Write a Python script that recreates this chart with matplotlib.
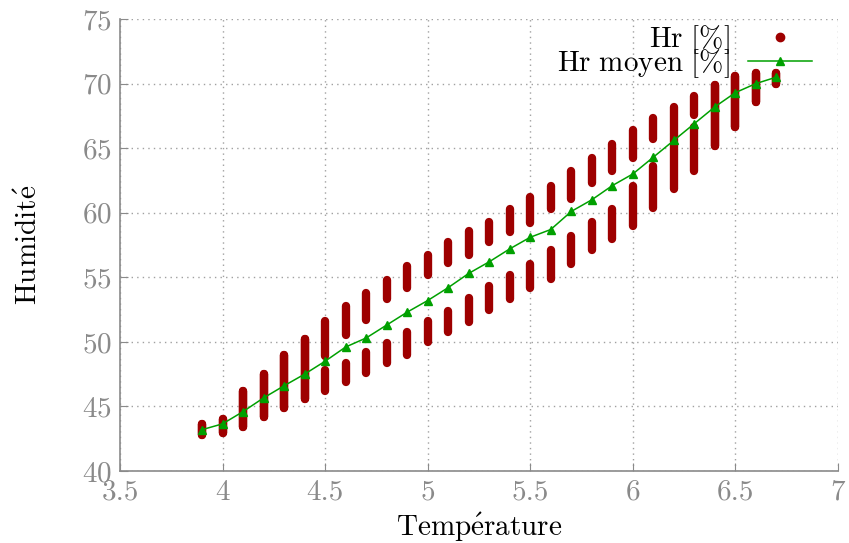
import numpy as np
import matplotlib.pyplot as plt
from matplotlib.lines import Line2D

# Data ----------------------------------------------------------------------
temps = [3.9, 4.0, 4.1, 4.2, 4.3, 4.4, 4.5, 4.6, 4.7, 4.8, 4.9, 5.0, 5.1, 5.2, 5.3,
         5.4, 5.5, 5.6, 5.7, 5.8, 5.9, 6.0, 6.1, 6.2, 6.3, 6.4, 6.5, 6.6, 6.7]

# humidity range of the upper and lower clusters at each temperature
upper_lo = [42.8, 42.95, 43.4, 44.2, 44.9, 45.6, 48.9, 50.5, 51.7, 53.3, 54.2, 55.2, 56.1, 56.7, 57.7,
            58.5, 59.2, 60.3, 61.1, 62.3, 63.2, 64.2, 65.7, 65.5, 67.6, 65.2, 66.6, 68.6, 70.0]
upper_hi = [43.65, 44.05, 46.2, 47.5, 49.0, 50.2, 51.6, 52.8, 53.8, 54.8, 55.9, 56.7, 57.7, 58.6, 59.3,
            60.3, 61.2, 62.1, 63.2, 64.2, 65.3, 66.4, 67.3, 68.2, 69.0, 69.9, 70.6, 70.8, 70.8]
lower_lo = [42.8, 42.95, 43.4, 44.2, 44.9, 45.6, 46.2, 46.9, 47.6, 48.4, 49.0, 50.0, 50.8, 51.5, 52.5,
            53.3, 54.2, 54.9, 56.0, 57.1, 58.0, 59.0, 60.4, 61.8, 63.2, 65.2, 66.6, 68.6, 70.0]
lower_hi = [43.65, 44.05, 46.2, 47.5, 49.0, 50.2, 47.8, 48.4, 49.2, 49.9, 50.8, 51.6, 52.4, 53.4, 54.3,
            55.2, 56.0, 57.1, 58.2, 59.3, 60.3, 62.1, 63.6, 65.3, 66.6, 69.9, 70.6, 70.8, 70.8]

hr_mean = [43.2, 43.65, 44.6, 45.66, 46.6, 47.5, 48.5, 49.6, 50.3, 51.3, 52.3, 53.2, 54.2, 55.3, 56.2,
           57.2, 58.1, 58.7, 60.1, 61.0, 62.1, 63.0, 64.3, 65.6, 66.9, 68.2, 69.3, 70.0, 70.5]

RED = "#9e0000"
GREEN = "#00a000"
GRAY = "#8a8a8a"


def main():
    plt.rcParams["mathtext.fontset"] = "cm"
    plt.rcParams["font.family"] = ["cmr10", "DejaVu Serif"]
    plt.rcParams["axes.formatter.use_mathtext"] = True

    fig = plt.figure(figsize=(8.49, 5.43), dpi=100)
    ax = fig.add_axes([0.1413, 0.1326, 0.8457, 0.8324])

    # dense points per temperature drawn as thick round-capped bars
    ax.vlines(temps, upper_lo, upper_hi, colors=RED, linewidth=6, capstyle="round", zorder=3)
    ax.vlines(temps, lower_lo, lower_hi, colors=RED, linewidth=6, capstyle="round", zorder=3)
    ax.plot(temps, hr_mean, color=GREEN, lw=1.1, marker="^", ms=6, zorder=4)

    ax.set_xlim(3.5, 7)
    ax.set_ylim(40, 75)
    ax.set_xticks([3.5, 4, 4.5, 5, 5.5, 6, 6.5, 7])
    ax.set_xticklabels(["3.5", "4", "4.5", "5", "5.5", "6", "6.5", "7"])
    ax.set_yticks([40, 45, 50, 55, 60, 65, 70, 75])
    ax.grid(True, color="#a0a0a0", linestyle=(0, (1, 3)), linewidth=1)
    ax.set_axisbelow(True)
    for s in ["top", "right"]:
        ax.spines[s].set_visible(False)
    for s in ["left", "bottom"]:
        ax.spines[s].set_color(GRAY)
        ax.spines[s].set_linewidth(1.2)
    ax.tick_params(direction="in", length=6, color=GRAY, labelcolor=GRAY,
                   labelsize=21, pad=6)

    ax.set_xlabel(r"$\mathrm{Temp\acute{e}rature}$", fontsize=21, labelpad=4)
    ax.set_ylabel(r"$\mathrm{Humidit\acute{e}}$", fontsize=21, labelpad=28)

    handles = [Line2D([], [], ls="none", marker="o", color=RED, ms=6),
               Line2D([], [], color=GREEN, lw=1.1, marker="^", ms=6)]
    labels = [r"$\mathrm{Hr\ [\%]}$", r"$\mathrm{Hr\ moyen\ [\%]}$"]
    ax.legend(handles, labels, loc="upper right", bbox_to_anchor=(0.992, 1.035),
              frameon=False, markerfirst=False, fontsize=21, handlelength=2.2,
              labelspacing=-0.3, handletextpad=0.6, borderpad=0.2)

    fig.savefig("out.png", dpi=100)


if __name__ == "__main__":
    main()
